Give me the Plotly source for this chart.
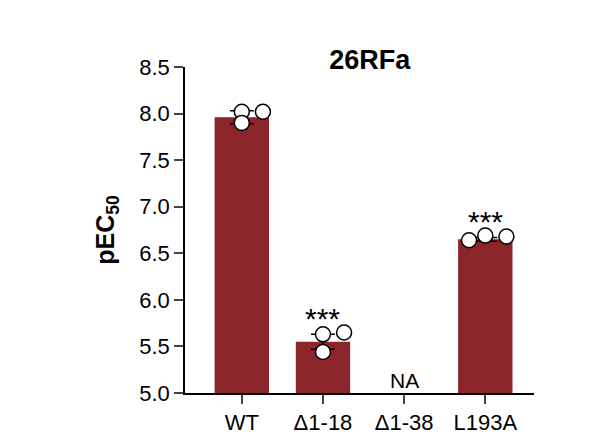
import plotly.graph_objects as go

# data
categories = ["WT", "Δ1-18", "Δ1-38", "L193A"]
bar_means = [7.96, 5.55, None, 6.65]
bar_err = [0.07, 0.08, 0, 0.02]
point_x = [0, 0.26, 0, 1, 1.26, 1, 2.8, 3.0, 3.26]
point_y = [8.02, 8.02, 7.90, 5.63, 5.65, 5.44, 6.64, 6.69, 6.68]
stars = {1: 5.8, 3: 6.84}

RED = "#8b2529"
FONT = "Liberation Sans, Arial, sans-serif"

fig = go.Figure()
fig.add_trace(go.Bar(
    x=[0, 1, 2, 3], y=[b - 5 if b is not None else None for b in bar_means],
    base=5, width=0.67, marker=dict(color=RED, line=dict(width=0)),
    error_y=dict(type="data", array=bar_err, color="black", thickness=1.5, width=12),
))
fig.add_trace(go.Scatter(
    x=point_x, y=point_y, mode="markers",
    marker=dict(size=15, color="white", line=dict(color="black", width=1.5)),
))
for xi, yi in stars.items():
    fig.add_annotation(x=xi, y=yi, text="***", showarrow=False, font=dict(size=30, color="black", family=FONT))
fig.add_annotation(x=2, y=5.13, text="NA", showarrow=False, font=dict(size=21, color="black", family=FONT))

fig.update_layout(
    width=608, height=447, showlegend=False,
    plot_bgcolor="white", paper_bgcolor="white",
    margin=dict(l=177, r=82, t=59, b=62),
    font=dict(family=FONT, size=22, color="black"),
    title=dict(text="<b>26RFa</b>", x=0.595, xanchor="center", y=0.885, yanchor="middle", font=dict(size=27)),
    xaxis=dict(range=[-0.7, 3.6], tickvals=[0, 1, 2, 3], ticktext=categories,
               showline=True, linecolor="black", linewidth=1.5, ticks="outside", ticklen=9,
               tickwidth=1.5, showgrid=False, zeroline=False),
    yaxis=dict(range=[5, 8.5], tickvals=[5.0, 5.5, 6.0, 6.5, 7.0, 7.5, 8.0, 8.5],
               ticktext=["5.0", "5.5", "6.0", "6.5", "7.0", "7.5", "8.0", "8.5"],
               showline=True, linecolor="black", linewidth=1.5, ticks="outside", ticklen=9,
               tickwidth=1.5, showgrid=False, zeroline=False,
               title=dict(text="<b>pEC<sub>50</sub></b>", font=dict(size=25), standoff=18)),
)
fig.write_html("out.html")
